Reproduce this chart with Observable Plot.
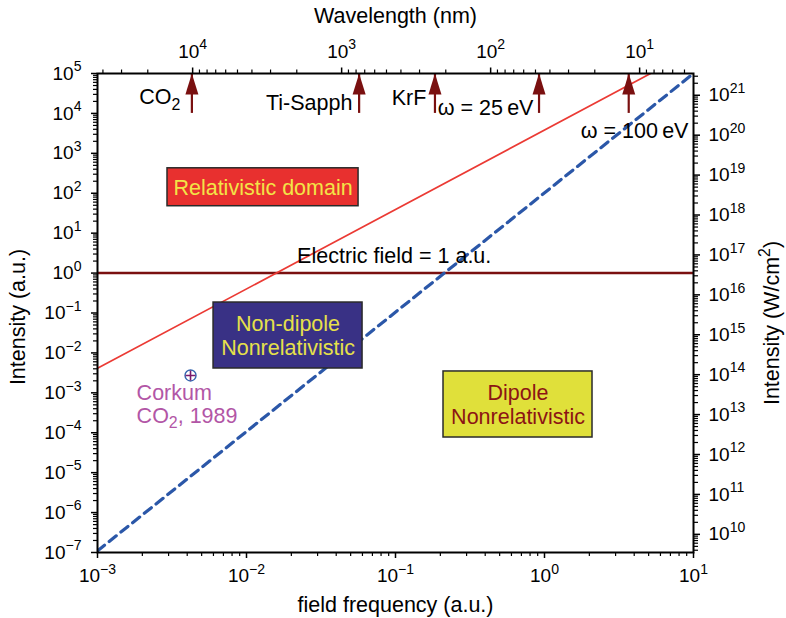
<!DOCTYPE html>
<html><head><meta charset="utf-8">
<script src="https://cdn.jsdelivr.net/npm/d3@7"></script>
<script src="https://cdn.jsdelivr.net/npm/@observablehq/plot@0.6"></script>
<style>body{margin:0;background:#fff}</style>
</head><body><div id="chart"></div>
<script>
// ---------------- data ----------------
const freqDecades = [1e-3, 1e-2, 1e-1, 1, 10];                 // field frequency (a.u.)
const intensityDecades = [1e-7,1e-6,1e-5,1e-4,1e-3,1e-2,1e-1,1,1e1,1e2,1e3,1e4,1e5]; // a.u.
const wavelengthTicks = [1e4, 1e3, 1e2, 1e1];                    // nm (top axis)
const wcm2Ticks = [1e10,1e11,1e12,1e13,1e14,1e15,1e16,1e17,1e18,1e19,1e20,1e21]; // W/cm^2 (right axis)
const minorMultipliers = [2, 3, 4, 5, 6, 7, 8, 9];
const NM_PER_AU = 43.5;       // wavelength(nm) x frequency(a.u.), as placed on the top axis
const WCM2_PER_AU = 3.51e16;  // 1 a.u. of intensity in W/cm^2

const relativisticF = [1e-3, 5.15];
const relativisticI = [4.1e-3, 1e5];
const dipoleF = [1e-3, 10];
const dipoleI = [1.1e-7, 1e5];
const fieldOneAU = [1];

const sourceNames = ["CO_{2}", "Ti-Sapph", "KrF", "\u03c9 = 25\u2009eV", "\u03c9 = 100\u2009eV"];
const sourceFreq  = [0.0043, 0.057, 0.184, 0.919, 3.675];
const sourceLabelFreq = [0.0036, 0.0514, 0.161, 0.843, 9.25];
const sourceLabelI    = [2.5e4, 1.85e4, 2.4e4, 1.32e4, 3.7e3];
const arrowFromI = 1e4, arrowToI = 1e5;

const regionNames = ["Relativistic domain", "Non-dipole\nNonrelativistic", "Dipole\nNonrelativistic"];
const regionF1 = [0.00295, 0.00601, 0.210];
const regionF2 = [0.0565, 0.0601, 2.10];
const regionI1 = [47.3, 0.00407, 7.6e-5];
const regionI2 = [422, 0.183, 0.00343];
const regionFill = ["#e8302f", "#393185", "#e0e03a"];
const regionText = ["#f2e447", "#e6e04a", "#8c1414"];

const corkumF = [0.00421], corkumI = [0.00272];
const corkumLabel = "Corkum\nCO_{2}, 1989";
const corkumLabelF = 0.00183, corkumLabelI = 5.1e-4;

const fieldLabel = "Electric field = 1 a.u.";
const fieldLabelF = 0.098, fieldLabelI = 2.6;

// ---------------- helpers ----------------
function minorLog(lo, hi) {
  const out = [];
  for (let e = Math.floor(Math.log10(lo)); e <= Math.ceil(Math.log10(hi)); e++)
    for (const k of minorMultipliers) {
      const v = k * Math.pow(10, e);
      if (v >= lo * (1 - 1e-9) && v <= hi * (1 + 1e-9)) out.push(v);
    }
  return out;
}
const pow10 = v => "10^{" + String(Math.round(Math.log10(v))).replace("-", "\u2212") + "}";

const xMinor = minorLog(1e-3, 10);
const yMinor = minorLog(1e-7, 1e5);
const topMajor = wavelengthTicks.map(l => ({f: NM_PER_AU / l, I: 1e5, label: pow10(l)}));
const topMinor = minorLog(NM_PER_AU / 10, NM_PER_AU / 1e-3).map(l => ({f: NM_PER_AU / l, I: 1e5}));
const rightMajor = wcm2Ticks.map(w => w / WCM2_PER_AU);
const rightMinor = minorLog(1e-7 * WCM2_PER_AU, 1e5 * WCM2_PER_AU).map(w => w / WCM2_PER_AU);

const lineRel = relativisticF.map((f, i) => ({f, I: relativisticI[i]}));
const lineDip = dipoleF.map((f, i) => ({f, I: dipoleI[i]}));
const arrows = sourceFreq.map((f, i) => ({f, I0: arrowFromI, I1: arrowToI, name: sourceNames[i], lf: sourceLabelFreq[i], lI: sourceLabelI[i]}));
const regions = regionNames.map((name, i) => ({name, f1: regionF1[i], f2: regionF2[i], I1: regionI1[i], I2: regionI2[i], fill: regionFill[i], text: regionText[i]}));
const corkum = corkumF.map((f, i) => ({f, I: corkumI[i]}));

const headSymbol = {draw(ctx) { ctx.moveTo(0, 0); ctx.lineTo(6.5, 21); ctx.lineTo(-6.5, 21); ctx.closePath(); }};
const crossSymbol = {draw(ctx) { ctx.moveTo(-5, 0); ctx.lineTo(5, 0); ctx.moveTo(0, -5); ctx.lineTo(0, 5); }};
const upTickMajor = {draw(ctx) { ctx.moveTo(0, 0); ctx.lineTo(0, -6); }};
const upTickMinor = {draw(ctx) { ctx.moveTo(0, 0); ctx.lineTo(0, -4); }};

const TICK = 19, FS = 21.5;
const darkRed = "#7a1010";

const plot = Plot.plot({
  width: 786, height: 618,
  marginTop: 73, marginRight: 93, marginBottom: 66, marginLeft: 97,
  style: {fontFamily: "'Liberation Sans', Arial, Helvetica, sans-serif", fontSize: TICK + "px", background: "#fff", color: "#000"},
  x: {type: "log", domain: [1e-3, 10]},
  y: {type: "log", domain: [1e-7, 1e5]},
  marks: [
    // axes: bottom
    Plot.axisX(freqDecades, {anchor: "bottom", tickSize: 6, tickPadding: 10, strokeWidth: 1.5, tickFormat: pow10, fontSize: TICK, label: null}),
    Plot.axisX(xMinor, {anchor: "bottom", tickSize: 4, strokeWidth: 1.2, tickFormat: () => "", label: null}),
    // left
    Plot.axisY(intensityDecades, {anchor: "left", tickSize: 6, tickPadding: 10, strokeWidth: 1.5, tickFormat: pow10, fontSize: TICK, label: null}),
    Plot.axisY(yMinor, {anchor: "left", tickSize: 4, strokeWidth: 1.2, tickFormat: () => "", label: null}),
    // right (W/cm^2)
    Plot.axisY(rightMajor, {anchor: "right", tickSize: 6, tickPadding: 9, strokeWidth: 1.5, tickFormat: v => pow10(v * WCM2_PER_AU), fontSize: TICK, label: null}),
    Plot.axisY(rightMinor, {anchor: "right", tickSize: 4, strokeWidth: 1.2, tickFormat: () => "", label: null}),
    // top (wavelength), ticks placed on the frequency scale
    Plot.dot(topMajor, {x: "f", y: "I", symbol: upTickMajor, r: 6, stroke: "#000", strokeWidth: 1.5, fill: "none"}),
    Plot.dot(topMinor, {x: "f", y: "I", symbol: upTickMinor, r: 4, stroke: "#000", strokeWidth: 1.2, fill: "none"}),
    Plot.text(topMajor, {x: "f", y: "I", text: "label", dy: -22, lineAnchor: "middle", fontSize: TICK}),

    // axis titles
    Plot.text(["Wavelength (nm)"], {frameAnchor: "top", dy: -57, lineAnchor: "middle", textAnchor: "middle", text: d => d, fontSize: FS}),
    Plot.text(["field frequency (a.u.)"], {frameAnchor: "bottom", dy: 53, lineAnchor: "middle", textAnchor: "middle", text: d => d, fontSize: FS}),
    Plot.text(["Intensity (a.u.)"], {frameAnchor: "left", dx: -79, dy: 4, lineAnchor: "middle", textAnchor: "middle", text: d => d, rotate: -90, fontSize: FS}),
    Plot.text(["Intensity (W/cm^{2})"], {frameAnchor: "right", dx: 79, dy: 10, lineAnchor: "middle", textAnchor: "middle", text: d => d, rotate: -90, fontSize: FS}),

    // boundary lines
    Plot.ruleY(fieldOneAU, {stroke: darkRed, strokeWidth: 2.5}),
    Plot.line(lineRel, {x: "f", y: "I", stroke: "#eb3a34", strokeWidth: 1.7, clip: true}),
    Plot.line(lineDip, {x: "f", y: "I", stroke: "#2b57a8", strokeWidth: 3.2, strokeDasharray: "9,6", clip: true}),
    Plot.text([fieldLabel], {x: () => fieldLabelF, y: () => fieldLabelI, text: d => d, fontSize: FS}),

    // region boxes
    Plot.rect(regions, {x1: "f1", x2: "f2", y1: "I1", y2: "I2", fill: "fill", stroke: "#2a2a2a", strokeWidth: 1.5}),
    Plot.text(regions, {x: d => Math.sqrt(d.f1 * d.f2), y: d => Math.sqrt(d.I1 * d.I2), text: "name", fill: "text", fontSize: FS, lineHeight: 1.12}),

    // Corkum point
    Plot.dot(corkum, {x: "f", y: "I", r: 5.5, stroke: "#3466b0", strokeWidth: 1.4, fill: "none"}),
    Plot.dot(corkum, {x: "f", y: "I", symbol: crossSymbol, r: 5, stroke: "#7a1a6e", strokeWidth: 1.6, fill: "none"}),
    Plot.text([corkumLabel], {x: () => corkumLabelF, y: () => corkumLabelI, text: d => d, textAnchor: "start", fill: "#b256a6", fontSize: FS, lineHeight: 1.05}),

    // source arrows
    Plot.ruleX(arrows, {x: "f", y1: "I0", y2: "I1", stroke: darkRed, strokeWidth: 2.2}),
    Plot.dot(arrows, {x: "f", y: "I1", symbol: headSymbol, r: 6, fill: darkRed, stroke: "none"}),
    Plot.text(arrows, {x: "lf", y: "lI", text: "name", textAnchor: "end", fontSize: FS}),

    Plot.frame({stroke: "#000", strokeWidth: 2})
  ]
});

document.getElementById("chart").appendChild(plot);

// rich text: ^{..} superscript, _{..} subscript
(function richText(root) {
  const ns = "http://www.w3.org/2000/svg";
  const els = Array.from(root.querySelectorAll("text, tspan"));
  for (const el of els) {
    if (el.childNodes.length !== 1 || el.firstChild.nodeType !== 3) continue;
    const s = el.textContent;
    if (!/[\^_]\{/.test(s)) continue;
    const F = parseFloat(getComputedStyle(el).fontSize) || 19;
    el.textContent = "";
    const re = /([\^_])\{([^}]*)\}/g;
    let last = 0, m, cur = 0;
    const add = (txt, target, small) => {
      const dy = target - cur;
      if (!dy && !small) { el.appendChild(document.createTextNode(txt)); return; }
      const t = document.createElementNS(ns, "tspan");
      t.textContent = txt;
      if (dy) t.setAttribute("dy", dy.toFixed(2));
      if (small) t.setAttribute("font-size", (F * 0.74).toFixed(2));
      el.appendChild(t);
      cur = target;
    };
    while ((m = re.exec(s))) {
      if (m.index > last) add(s.slice(last, m.index), 0, false);
      add(m[2], m[1] === "^" ? -0.44 * F : 0.24 * F, true);
      last = re.lastIndex;
    }
    if (last < s.length) add(s.slice(last), 0, false);
  }
})(plot);
</script>
</body></html>
